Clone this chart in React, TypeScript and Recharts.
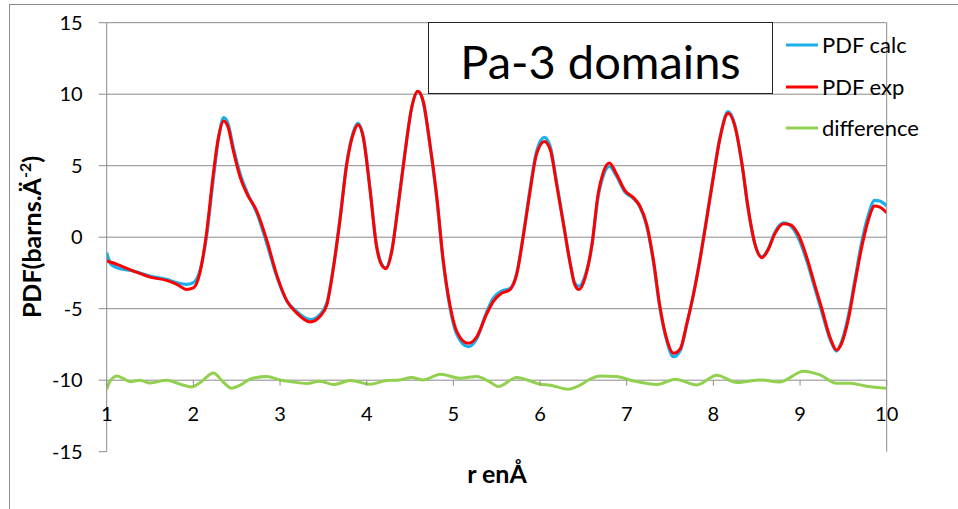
import React from 'react';
import { LineChart, Line, XAxis, YAxis, CartesianGrid, Legend } from 'recharts';

// r values (Å) shared by the calc / exp curves
const rGrid = [
  1.0, 1.05, 1.12, 1.31, 1.5, 1.69, 1.81, 1.92, 2.0, 2.08,
  2.15, 2.23, 2.29, 2.35, 2.4, 2.46, 2.54, 2.62, 2.73, 2.85,
  2.96, 3.08, 3.19, 3.35, 3.46, 3.54, 3.61, 3.69, 3.77, 3.85,
  3.9, 3.96, 4.04, 4.11, 4.17, 4.22, 4.29, 4.36, 4.44, 4.52,
  4.59, 4.65, 4.73, 4.81, 4.88, 4.96, 5.04, 5.17, 5.27, 5.38,
  5.46, 5.56, 5.65, 5.73, 5.81, 5.88, 5.96, 6.05, 6.12, 6.19,
  6.27, 6.35, 6.4, 6.45, 6.52, 6.6, 6.67, 6.73, 6.8, 6.88,
  6.98, 7.08, 7.15, 7.23, 7.31, 7.38, 7.46, 7.54, 7.62, 7.69,
  7.77, 7.85, 7.92, 8.0, 8.08, 8.17, 8.25, 8.33, 8.4, 8.48,
  8.56, 8.63, 8.71, 8.81, 8.88, 8.98, 9.08, 9.17, 9.25, 9.35,
  9.42, 9.48, 9.56, 9.63, 9.71, 9.79, 9.86, 9.92, 10.0,
];

const pdfCalc = [
  -1.08, -1.9, -2.13, -2.37, -2.72, -2.95, -3.18, -3.3, -3.18, -2.25,
  -0.02, 4.07, 6.9, 8.36, 7.94, 6.3, 4.43, 3.14, 1.73, -0.49,
  -2.72, -4.47, -5.18, -5.76, -5.41, -4.6, -2.3, 1.2, 5.2, 7.45,
  7.96, 7.05, 3.3, -0.4, -1.85, -2.15, -0.9, 2.1, 5.85, 9.1,
  10.2, 9.5, 6.4, 2.6, -1.6, -4.9, -6.8, -7.66, -7.1, -5.3,
  -4.26, -3.75, -3.6, -2.55, 0.3, 3.2, 6.0, 6.98, 6.3, 3.9,
  1.0, -1.9, -3.2, -3.43, -2.7, -0.5, 2.8, 4.3, 4.95, 4.3,
  3.15, 2.7, 2.15, 0.8, -1.8, -4.85, -7.2, -8.36, -7.9, -6.2,
  -4.0, -1.35, 1.25, 4.3, 7.1, 8.78, 7.8, 5.1, 2.0, -0.5,
  -1.38, -0.85, 0.35, 1.0, 0.85, -0.05, -1.69, -3.56, -5.2, -7.19,
  -7.96, -7.3, -5.43, -3.09, -0.4, 1.59, 2.58, 2.53, 2.18,
];

const pdfExp = [
  -1.66, -1.75, -1.9, -2.37, -2.79, -3.02, -3.3, -3.65, -3.54, -2.37,
  0.2, 4.43, 7.0, 8.13, 7.7, 6.07, 4.19, 3.02, 1.85, -0.26,
  -2.6, -4.47, -5.29, -5.93, -5.55, -4.73, -2.39, 1.12, 5.1, 7.33,
  7.87, 6.98, 3.23, -0.52, -1.92, -2.2, -0.98, 2.06, 5.81, 9.09,
  10.21, 9.56, 6.51, 2.76, -1.45, -4.73, -6.6, -7.42, -6.96, -5.43,
  -4.5, -3.91, -3.68, -2.62, 0.19, 3.0, 5.81, 6.7, 6.08, 3.73,
  0.92, -1.9, -3.31, -3.66, -2.84, -0.49, 3.03, 4.55, 5.19, 4.44,
  3.26, 2.75, 2.2, 0.92, -1.67, -4.72, -7.07, -8.12, -7.77, -6.13,
  -4.01, -1.43, 1.15, 4.2, 7.02, 8.66, 7.72, 5.14, 2.09, -0.49,
  -1.43, -0.9, 0.25, 0.94, 0.89, 0.19, -1.45, -3.33, -4.97, -7.07,
  -7.89, -7.42, -5.67, -3.33, -0.75, 1.24, 2.18, 2.11, 1.71,
];

// difference curve (its own r sampling)
const diffR = [
  1.0, 1.04, 1.12, 1.19, 1.27, 1.38, 1.5, 1.69, 1.85, 1.98,
  2.08, 2.23, 2.35, 2.44, 2.54, 2.65, 2.85, 3.0, 3.12, 3.31,
  3.46, 3.62, 3.81, 4.04, 4.23, 4.38, 4.52, 4.65, 4.85, 5.08,
  5.27, 5.42, 5.52, 5.73, 6.0, 6.12, 6.33, 6.42, 6.58, 6.69,
  6.88, 7.08, 7.35, 7.56, 7.81, 8.04, 8.27, 8.54, 8.77, 9.04,
  9.23, 9.42, 9.58, 9.77, 10.0,
];
const diffValues = [
  -10.63, -10.05, -9.7, -9.88, -10.1, -10.0, -10.2, -10.0, -10.28, -10.47,
  -10.16, -9.5, -10.16, -10.56, -10.35, -9.93, -9.74, -9.98, -10.1, -10.23,
  -10.07, -10.3, -10.02, -10.28, -10.02, -9.98, -9.81, -9.98, -9.58, -9.86,
  -9.74, -10.12, -10.44, -9.81, -10.28, -10.35, -10.63, -10.47, -9.93, -9.7,
  -9.74, -10.05, -10.3, -9.93, -10.33, -9.65, -10.16, -9.98, -10.12, -9.37,
  -9.63, -10.21, -10.21, -10.42, -10.56,
];

const xTicks = [1, 2, 3, 4, 5, 6, 7, 8, 9, 10];
const yTicks = [-15, -10, -5, 0, 5, 10, 15];
const gridValues = [-10, -5, 0, 5, 10, 15];

const seriesNames = ['PDF calc', 'PDF exp', 'difference'];
const seriesColors = ['#1AAFE8', '#FF0000', '#92D050'];

const chartTitle = 'Pa-3 domains';
const xTitle = 'r enÅ';

const mainData = rGrid.map((r, i) => ({ r, calc: pdfCalc[i], exp: pdfExp[i] }));
const diffData = diffR.map((r, i) => ({ r, diff: diffValues[i] }));

const AXIS = '#8C8C8C';
const FONT = 'Lato, "Open Sans", sans-serif';

const XTick = (props: any) => {
  const { x, y, payload } = props;
  return (
    <g>
      <line x1={x} x2={x} y1={y - 71.5} y2={y - 66} stroke={AXIS} strokeWidth={1} />
      <text
        x={x}
        y={y - 38.7}
        textAnchor="middle"
        dominantBaseline="central"
        fontSize={20}
        fontFamily={FONT}
        fill="#000"
      >
        {payload.value}
      </text>
    </g>
  );
};

const LegendBox = () => (
  <div style={{ fontFamily: FONT, fontSize: 22, color: '#000' }}>
    {seriesNames.map((name, i) => (
      <div key={name} style={{ height: 41.5, display: 'flex', alignItems: 'center' }}>
        <svg width={36} height={6} style={{ display: 'block' }}>
          <line x1={0} x2={32} y1={3} y2={3} stroke={seriesColors[i]} strokeWidth={3} />
        </svg>
        <span style={{ lineHeight: 1 }}>{name}</span>
      </div>
    ))}
  </div>
);

export default function App() {
  return (
    <div style={{ position: 'absolute', left: 0, top: 0, width: 958, height: 509, background: '#fff', overflow: 'hidden' }}>
      <div
        style={{
          position: 'absolute',
          left: 9,
          top: 4,
          width: 960,
          height: 520,
          borderTop: `1.5px solid ${AXIS}`,
          borderLeft: `1.5px solid ${AXIS}`,
        }}
      />
      <div style={{ position: 'absolute', left: 0, top: 0 }}>
        <LineChart width={958} height={509} margin={{ top: 22.7, right: 61.3, bottom: 27.3, left: 46.7 }}>
          <CartesianGrid vertical={false} horizontalValues={gridValues} stroke={AXIS} strokeWidth={1} />
          <XAxis
            type="number"
            dataKey="r"
            domain={[1, 10]}
            ticks={xTicks}
            interval={0}
            axisLine={false}
            tickLine={false}
            tickSize={0}
            tickMargin={0}
            height={30}
            tick={<XTick />}
            allowDataOverflow
          />
          <YAxis
            type="number"
            domain={[-15, 15]}
            ticks={yTicks}
            interval={0}
            width={60}
            tickSize={8}
            tickMargin={16}
            axisLine={{ stroke: AXIS }}
            tickLine={{ stroke: AXIS }}
            tick={{ fontSize: 20, fill: '#000', fontFamily: FONT }}
            allowDataOverflow
          />
          <YAxis
            yAxisId="right"
            orientation="right"
            type="number"
            domain={[-15, 15]}
            ticks={yTicks}
            interval={0}
            width={10}
            tickSize={6}
            axisLine={{ stroke: AXIS }}
            tickLine={{ stroke: AXIS }}
            tick={false}
            allowDataOverflow
          />
          <Legend
            layout="vertical"
            verticalAlign="middle"
            align="center"
            wrapperStyle={{ position: 'absolute', left: 786, top: 24.5, width: 170 }}
            content={() => <LegendBox />}
          />
          <Line
            data={mainData}
            dataKey="calc"
            name={seriesNames[0]}
            type="monotone"
            stroke={seriesColors[0]}
            strokeWidth={3.2}
            dot={false}
            isAnimationActive={false}
          />
          <Line
            data={mainData}
            dataKey="exp"
            name={seriesNames[1]}
            type="monotone"
            stroke={seriesColors[1]}
            strokeWidth={3}
            dot={false}
            isAnimationActive={false}
          />
          <Line
            data={diffData}
            dataKey="diff"
            name={seriesNames[2]}
            type="monotone"
            stroke={seriesColors[2]}
            strokeWidth={3}
            dot={false}
            isAnimationActive={false}
          />
        </LineChart>
      </div>
      <div
        style={{
          position: 'absolute',
          left: 428,
          top: 22,
          width: 345,
          height: 72,
          boxSizing: 'border-box',
          border: '1.5px solid #222',
          background: '#fff',
          display: 'flex',
          alignItems: 'center',
          justifyContent: 'center',
          fontFamily: FONT,
          fontSize: 47,
          color: '#000',
          lineHeight: 1,
        }}
      >
        <span style={{ position: 'relative', top: 3 }}>{chartTitle}</span>
      </div>
      <div
        style={{
          position: 'absolute',
          left: 31,
          top: 237,
          transform: 'translate(-50%, -50%) rotate(-90deg)',
          whiteSpace: 'nowrap',
          fontFamily: FONT,
          fontWeight: 700,
          fontSize: 25,
          color: '#000',
          lineHeight: 1,
        }}
      >
        PDF(barns.Ä<span style={{ fontSize: 16, verticalAlign: 'super', lineHeight: 0 }}>-2</span>)
      </div>
      <div
        style={{
          position: 'absolute',
          left: 497,
          top: 473,
          transform: 'translate(-50%, -50%)',
          whiteSpace: 'nowrap',
          fontFamily: FONT,
          fontWeight: 700,
          fontSize: 25,
          color: '#000',
          lineHeight: 1,
        }}
      >
        {xTitle}
      </div>
    </div>
  );
}
